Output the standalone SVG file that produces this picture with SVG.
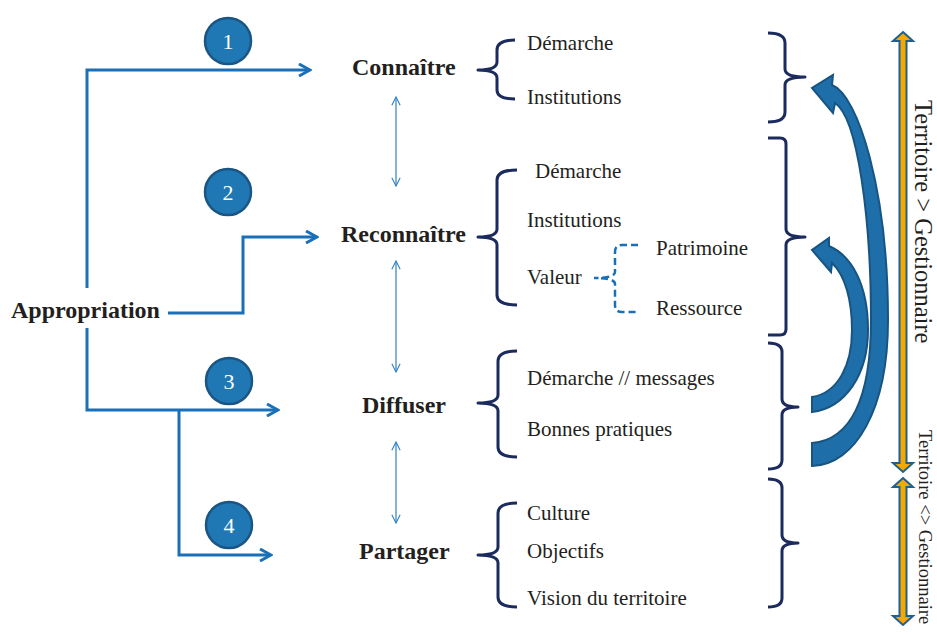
<svg xmlns="http://www.w3.org/2000/svg" width="937" height="634" viewBox="0 0 937 634">
<defs>
<style>
.lbl{font-family:"Liberation Serif",serif;font-size:24px;font-weight:bold;fill:#231f20}
.txt{font-family:"Liberation Serif",serif;font-size:21px;fill:#231f20}
.num{font-family:"Liberation Serif",serif;font-size:22px;fill:#ffffff;text-anchor:middle}
.side{font-family:"Liberation Serif",serif;fill:#231f20}
.conn{fill:none;stroke:#1a70b8;stroke-width:3}
.thin{fill:none;stroke:#2f80c4;stroke-width:1.2}
.brace{fill:none;stroke:#1b2b5e;stroke-width:3;stroke-linejoin:round;stroke-linecap:butt}
.dbrace{fill:none;stroke:#1a70b8;stroke-width:2.5;stroke-dasharray:7 4}
.circ{fill:#1f78b4;stroke:#1a5583;stroke-width:2.5}
.curve{fill:#1e6fa9;stroke:#185482;stroke-width:2;stroke-linejoin:miter}
.vert{fill:#f5a800;stroke:#1f5f92;stroke-width:2;stroke-linejoin:miter}
</style>
<marker id="ah" viewBox="0 0 14 14" refX="12" refY="7" markerWidth="14" markerHeight="14" markerUnits="userSpaceOnUse" orient="auto">
<path d="M1,1 L12,7 L1,13" fill="none" stroke="#1a70b8" stroke-width="3"/>
</marker>
<marker id="th" viewBox="0 0 12 12" refX="11" refY="6" markerWidth="10" markerHeight="10" markerUnits="userSpaceOnUse" orient="auto-start-reverse">
<path d="M1,1 L11,6 L1,11" fill="none" stroke="#2f80c4" stroke-width="1.3"/>
</marker>
</defs>
<rect width="937" height="634" fill="#ffffff"/>

<g id="connectors">
<path class="conn" d="M87,288 L87,70 L310,70" marker-end="url(#ah)"/>
<path class="conn" d="M168,313 L243,313 L243,237 L317,237" marker-end="url(#ah)"/>
<path class="conn" d="M87,328 L87,410 L278,410" marker-end="url(#ah)"/>
<path class="conn" d="M179,410 L179,555 L271,555" marker-end="url(#ah)"/>
<line class="thin" x1="396" y1="97" x2="396" y2="186" marker-start="url(#th)" marker-end="url(#th)"/>
<line class="thin" x1="396" y1="261" x2="396" y2="372" marker-start="url(#th)" marker-end="url(#th)"/>
<line class="thin" x1="396" y1="442" x2="396" y2="523" marker-start="url(#th)" marker-end="url(#th)"/>
</g>

<g id="appropriation"><text class="lbl" x="11" y="318">Appropriation</text></g>

<g id="num1"><circle class="circ" cx="228" cy="41" r="23"/><text class="num" x="228" y="49">1</text></g>
<g id="num2"><circle class="circ" cx="228" cy="192" r="23"/><text class="num" x="228" y="200">2</text></g>
<g id="num3"><circle class="circ" cx="229" cy="381" r="23"/><text class="num" x="229" y="389">3</text></g>
<g id="num4"><circle class="circ" cx="229" cy="525" r="23"/><text class="num" x="229" y="533">4</text></g>

<g id="connaitre">
<text class="lbl" x="352" y="75">Connaître</text>
<path class="brace" d="M515,40 Q497,40 497,50 L497,62 Q497,70 478,70 Q497,70 497,78 L497,90 Q497,99 515,99"/>
<text class="txt" x="527" y="50">Démarche</text>
<text class="txt" x="527" y="104">Institutions</text>
</g>

<g id="reconnaitre">
<text class="lbl" x="341" y="242">Reconnaître</text>
<path class="brace" d="M517,170 Q497,170 497,180 L497,229 Q497,237 478,237 Q497,237 497,245 L497,295 Q497,305 517,305"/>
<text class="txt" x="535" y="178">Démarche</text>
<text class="txt" x="527" y="227">Institutions</text>
<text class="txt" x="527" y="284">Valeur</text>
<path class="dbrace" d="M638,245 L622,245 Q615,245 615,252 L615,272 Q615,278 594,278 Q615,278 615,284 L615,305 Q615,312 622,312 L638,312"/>
<text class="txt" x="656" y="255">Patrimoine</text>
<text class="txt" x="656" y="315">Ressource</text>
</g>

<g id="diffuser">
<text class="lbl" x="362" y="413">Diffuser</text>
<path class="brace" d="M517,351 Q498,351 498,361 L498,395 Q498,403 478,403 Q498,403 498,411 L498,447 Q498,457 517,457"/>
<text class="txt" x="527" y="385">Démarche // messages</text>
<text class="txt" x="527" y="436">Bonnes pratiques</text>
</g>

<g id="partager">
<text class="lbl" x="359" y="559">Partager</text>
<path class="brace" d="M517,503 Q498,503 498,513 L498,547 Q498,555 478,555 Q498,555 498,563 L498,597 Q498,607 517,607"/>
<text class="txt" x="527" y="520">Culture</text>
<text class="txt" x="527" y="558">Objectifs</text>
<text class="txt" x="527" y="605">Vision du territoire</text>
</g>

<g id="right-braces">
<path class="brace" d="M768,33 Q785,33 785,43 L785,69 Q785,77 805,77 Q785,77 785,85 L785,112 Q785,122 768,122"/>
<path class="brace" d="M768,138 L780,138 Q786,138 786,144 L786,229 Q786,237 805,237 Q786,237 786,245 L786,329 Q786,335 780,335 L768,335"/>
<path class="brace" d="M768,343 Q782,343 782,352 L782,399 Q782,407 798,407 Q782,407 782,415 L782,460 Q782,469 768,469"/>
<path class="brace" d="M768,479 Q782,479 782,488 L782,535 Q782,543 798,543 Q782,543 782,551 L782,598 Q782,607 768,607"/>
</g>

<g id="curved-arrows">
<path class="curve" d="M812,443 C850,440 871,400 871,320 C871,220 858,118 835,103 L833,113 L812,88 L833,75 L832,85 C858,95 888,190 888,320 C888,410 855,465 812,466 Z"/>
<path class="curve" d="M812,397 C838,393 852,365 852,330 C852,300 845,275 832,263 L831,272 L812,250 L829,238 L829,246 C852,256 868,285 868,330 C868,375 845,408 812,412 Z"/>
</g>

<g id="territoire-gestionnaire">
<polygon class="vert" points="903,32 913,41 906.5,41 906.5,463 913,463 903,472 893,463 899.5,463 899.5,41 893,41"/>
<text class="side" font-size="24.5" transform="translate(915,100) rotate(90)">Territoire &gt; Gestionnaire</text>
</g>

<g id="territoire-bidir">
<polygon class="vert" points="903,478 913,487 906.5,487 906.5,616 913,616 903,625 893,616 899.5,616 899.5,487 893,487"/>
<text class="side" font-size="18.5" transform="translate(919,430) rotate(90)">Territoire &lt;&gt; Gestionnaire</text>
</g>
</svg>
